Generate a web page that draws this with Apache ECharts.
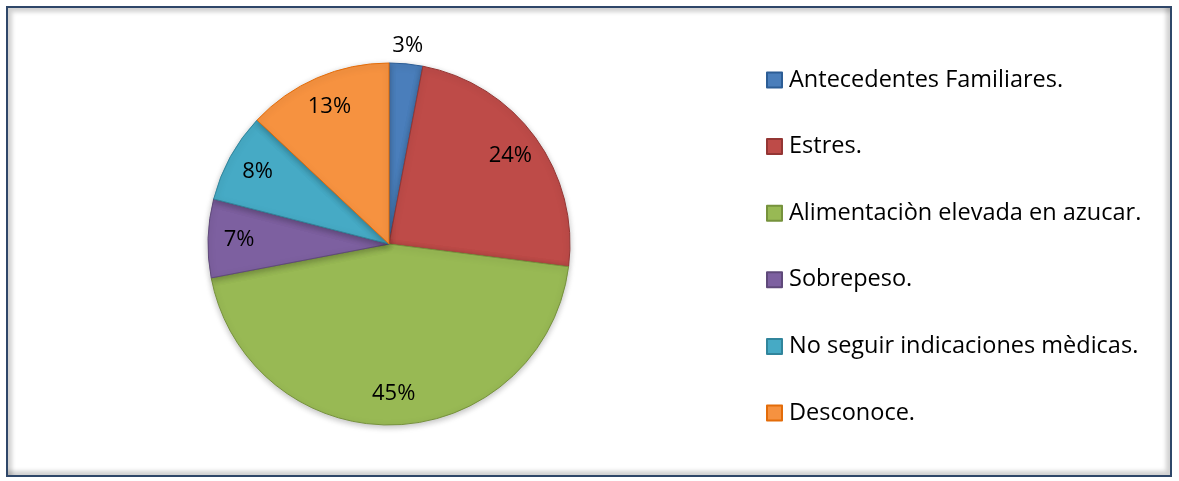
<!DOCTYPE html>
<html>
<head>
<meta charset="utf-8">
<script src="https://cdn.jsdelivr.net/npm/echarts@6/dist/echarts.min.js"></script>
<style>
html,body{margin:0;padding:0;background:#fff;}
#frame{position:absolute;left:6px;top:6px;width:1162px;height:467px;border:2px solid #2f4769;box-shadow:inset 4px 4px 4px rgba(0,0,0,0.18), inset -4px -4px 4px rgba(0,0,0,0.18);}
#chart{position:absolute;left:0;top:0;width:1179px;height:481px;}
</style>
</head>
<body>
<div id="frame"></div>
<div id="chart"></div>
<script>
const categories = ['Antecedentes Familiares.', 'Estres.', 'Alimentaciòn elevada en azucar.', 'Sobrepeso.', 'No seguir indicaciones mèdicas.', 'Desconoce.'];
const values = [3, 24, 45, 7, 8, 13];
const colors = ['#4a7ebb', '#be4b48', '#98b954', '#7d60a0', '#46aac5', '#f69240'];
const borders = ['#2c5d95', '#943634', '#76923c', '#5f497a', '#31859c', '#e36c09'];
const outsideLabel = [true, false, false, false, false, false];

const chart = echarts.init(document.getElementById('chart'));
const font = '"Open Sans", Lato, sans-serif';
const center = [389, 244];

const mainData = categories.map((c, i) => ({
  name: c, value: values[i],
  itemStyle: { color: colors[i], borderColor: borders[i], borderWidth: 1 }
}));
const innerLabelData = categories.map((c, i) => ({
  name: c, value: values[i],
  label: { show: !outsideLabel[i] }
}));
const outerLabelData = categories.map((c, i) => ({
  name: c, value: values[i],
  label: { show: outsideLabel[i] }
}));

chart.setOption({
  animation: false,
  legend: {
    orient: 'vertical',
    left: 766,
    top: 68,
    padding: 0,
    itemWidth: 15,
    itemHeight: 15,
    itemGap: 42.6,
    icon: 'rect',
    data: categories,
    textStyle: { fontFamily: font, fontSize: 23.5, lineHeight: 24, color: '#000', padding: [0, 0, 0, 2] }
  },
  series: [
    {
      type: 'pie',
      center: center,
      radius: [0, 181],
      startAngle: 90,
      clockwise: true,
      label: { show: false },
      labelLine: { show: false },
      emphasis: { disabled: true },
      data: mainData,
      color: colors,
      itemStyle: { shadowBlur: 6, shadowColor: 'rgba(0,0,0,0.25)', shadowOffsetY: 2 }
    },
    {
      type: 'pie',
      center: center,
      radius: [112, 182],
      startAngle: 90,
      silent: true,
      legendHoverLink: false,
      itemStyle: { color: 'transparent' },
      label: { position: 'inside', formatter: '{d}%', fontFamily: font, fontSize: 22, color: '#000' },
      labelLine: { show: false },
      data: innerLabelData
    },
    {
      type: 'pie',
      center: center,
      radius: [182, 210],
      startAngle: 90,
      silent: true,
      legendHoverLink: false,
      itemStyle: { color: 'transparent' },
      label: { position: 'inside', formatter: '{d}%', fontFamily: font, fontSize: 22, color: '#000' },
      labelLine: { show: false },
      data: outerLabelData
    }
  ]
});
</script>
</body>
</html>
